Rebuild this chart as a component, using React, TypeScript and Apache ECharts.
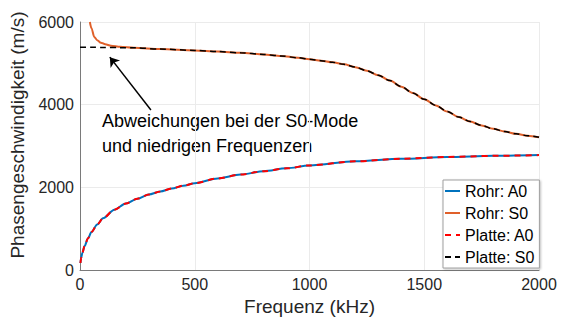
import React, { useEffect, useRef } from "react";
import * as echarts from "echarts";

// A0 mode (tube and plate coincide)
const a0Freq = [2, 5, 10, 20, 35, 50, 75, 100, 150, 200, 250, 300, 350, 400, 450, 500, 600, 700, 800, 900, 1000, 1200, 1400, 1600, 1800, 2000];
const a0Rohr = [170, 290, 410, 580, 770, 920, 1100, 1250, 1460, 1610, 1725, 1825, 1900, 1970, 2040, 2100, 2215, 2310, 2390, 2460, 2530, 2630, 2690, 2735, 2762, 2780];
const a0Platte = [170, 290, 410, 580, 770, 920, 1100, 1250, 1460, 1610, 1725, 1825, 1900, 1970, 2040, 2100, 2215, 2310, 2390, 2460, 2530, 2630, 2690, 2735, 2762, 2780];

// S0 mode
const s0RohrFreq = [43, 50, 62, 75, 91, 110, 135, 175, 235, 350, 500, 600, 700, 800, 875, 950, 1000, 1050, 1100, 1150, 1200, 1250, 1300, 1350, 1400, 1450, 1500, 1550, 1600, 1650, 1700, 1750, 1800, 1850, 1900, 1950, 2000];
const s0Rohr = [6000, 5850, 5640, 5560, 5500, 5460, 5425, 5400, 5376, 5345, 5313, 5285, 5255, 5215, 5180, 5135, 5100, 5065, 5025, 4975, 4908, 4820, 4712, 4583, 4435, 4283, 4132, 3982, 3835, 3702, 3592, 3497, 3417, 3350, 3295, 3250, 3210];
const s0PlatteFreq = [0, 50, 100, 175, 235, 350, 500, 600, 700, 800, 875, 950, 1000, 1050, 1100, 1150, 1200, 1250, 1300, 1350, 1400, 1450, 1500, 1550, 1600, 1650, 1700, 1750, 1800, 1850, 1900, 1950, 2000];
const s0Platte = [5390, 5388, 5385, 5380, 5376, 5345, 5313, 5285, 5255, 5215, 5180, 5135, 5100, 5065, 5025, 4975, 4908, 4820, 4712, 4583, 4435, 4283, 4132, 3982, 3835, 3702, 3592, 3497, 3417, 3350, 3295, 3250, 3210];

const xTicks = [0, 500, 1000, 1500, 2000];
const yTicks = [0, 2000, 4000, 6000];

// annotation arrow (data coords): tail -> head
const arrowTail = [309, 3870];
const arrowHead = [130, 5150];
const annotationText = "Abweichungen bei der S0-Mode\nund niedrigen Frequenzen";

const FONT = "Liberation Sans, Arial, Helvetica, sans-serif";

const pairs = (xs: number[], ys: number[]) => xs.map((x, i) => [x, ys[i]]);

export default function App() {
  const ref = useRef<HTMLDivElement>(null);
  useEffect(() => {
    if (!ref.current) return;
    const chart = echarts.init(ref.current, undefined, { renderer: "svg" });
    const lineCommon = { type: "line", smooth: 0.3, smoothMonotone: "x", showSymbol: false, symbol: "none" };
    chart.setOption({
      animation: false,
      backgroundColor: "#ffffff",
      textStyle: { fontFamily: FONT },
      grid: { left: 79, right: 22, top: 22, bottom: 52 },
      xAxis: {
        type: "value",
        min: xTicks[0],
        max: xTicks[xTicks.length - 1],
        interval: 500,
        name: "Frequenz (kHz)",
        nameLocation: "middle",
        nameGap: 20,
        nameTextStyle: { fontSize: 19, color: "#262626", fontFamily: FONT },
        axisLine: { show: true, lineStyle: { color: "#7a7a7a", width: 1 } },
        axisTick: { show: false },
        axisLabel: { fontSize: 16, color: "#262626", margin: 6, fontFamily: FONT, formatter: (v: number) => String(v) },
        splitLine: { show: true, lineStyle: { color: "#ebebeb", width: 1 } },
      },
      yAxis: {
        type: "value",
        min: yTicks[0],
        max: yTicks[yTicks.length - 1],
        interval: 2000,
        name: "Phasengeschwindigkeit (m/s)",
        nameLocation: "middle",
        nameGap: 53,
        nameTextStyle: { fontSize: 19, color: "#262626", fontFamily: FONT, padding: [0, 0, 0, 22] },
        axisLine: { show: true, lineStyle: { color: "#7a7a7a", width: 1 } },
        axisTick: { show: false },
        axisLabel: { fontSize: 16, color: "#262626", margin: 6, fontFamily: FONT, formatter: (v: number) => String(v) },
        splitLine: { show: true, lineStyle: { color: "#ebebeb", width: 1 } },
      },
      legend: {
        orient: "vertical",
        left: 443,
        top: 180,
        itemWidth: 15,
        itemHeight: 14,
        itemGap: 6,
        padding: [3, 5, 3, 1],
        backgroundColor: "#ffffff",
        borderColor: "#a0a0a0",
        borderWidth: 1,
        borderRadius: 0,
        shadowColor: "rgba(0,0,0,0.25)",
        shadowBlur: 2,
        shadowOffsetX: 1,
        shadowOffsetY: 1,
        itemStyle: { opacity: 0 },
        textStyle: { fontSize: 16, color: "#000000", fontFamily: FONT },
        data: ["Rohr: A0", "Rohr: S0", "Platte: A0", "Platte: S0"],
      },
      series: [
        {
          ...lineCommon,
          name: "Rohr: A0",
          data: pairs(a0Freq, a0Rohr),
          lineStyle: { color: "#0072BD", width: 2 },
          itemStyle: { color: "#0072BD" },
        },
        {
          ...lineCommon,
          name: "Rohr: S0",
          data: pairs(s0RohrFreq, s0Rohr),
          lineStyle: { color: "#E0602A", width: 2 },
          itemStyle: { color: "#E0602A" },
        },
        {
          ...lineCommon,
          name: "Platte: A0",
          data: pairs(a0Freq, a0Platte),
          lineStyle: { color: "#FF0000", width: 2, type: [6, 5] },
          itemStyle: { color: "#FF0000" },
        },
        {
          ...lineCommon,
          name: "Platte: S0",
          data: pairs(s0PlatteFreq, s0Platte),
          lineStyle: { color: "#000000", width: 1.5, type: [6, 4] },
          itemStyle: { color: "#000000" },
          markLine: {
            silent: true,
            symbol: ["none", "arrow"],
            symbolSize: 9,
            label: { show: false },
            lineStyle: { color: "#000000", width: 1.5, type: "solid" },
            data: [[{ coord: arrowTail }, { coord: arrowHead }]],
          },
        },
      ],
      graphic: [
        {
          type: "text",
          x: 102,
          y: 108,
          style: {
            text: annotationText,
            font: `18px ${FONT}`,
            fill: "#000000",
            lineHeight: 25,
            textVerticalAlign: "top",
          },
        },
      ],
    });
    return () => chart.dispose();
  }, []);
  return <div ref={ref} style={{ position: "fixed", left: 0, top: 0, width: 561, height: 322 }} />;
}
